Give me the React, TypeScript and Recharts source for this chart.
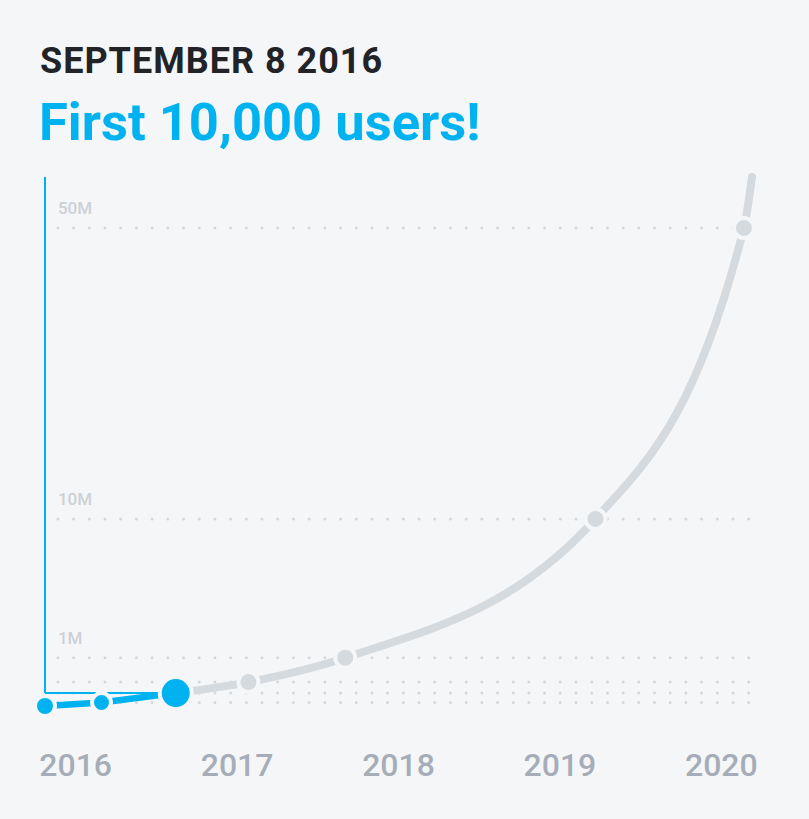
import { ComposedChart, Line, XAxis, YAxis, ReferenceLine } from 'recharts';

// decimal year of each milestone, and user count at that point
const dates = [2015.81, 2016.16, 2016.62, 2017.07, 2017.67, 2019.22, 2020.14, 2020.19];
const users = [0, 1000, 10000, 100000, 1000000, 10000000, 50000000, 57000000];
const highlightIndex = 2; // September 8 2016, first 10,000 users

const yearTicks = [2016, 2017, 2018, 2019, 2020];
const userTicks = [1000, 10000, 100000, 1000000, 10000000, 50000000];
const userTickLabels = ['', '', '', '1M', '10M', '50M'];

// the original uses a hand-made, non-linear y scale: user count -> axis level
const scaleValues = [0, 1000, 10000, 100000, 1000000, 10000000, 50000000];
const scaleLevels = [0, 3.5, 13, 24, 48.5, 188, 480.5];

const BG = '#f5f6f8';
const BLUE = '#00b3f0';
const GRAY = '#d5dadf';

function toLevel(v: number) {
  const n = scaleValues.length;
  for (let i = 1; i < n; i++) {
    if (v <= scaleValues[i]) {
      const t = (v - scaleValues[i - 1]) / (scaleValues[i] - scaleValues[i - 1]);
      return scaleLevels[i - 1] + t * (scaleLevels[i] - scaleLevels[i - 1]);
    }
  }
  const slope = (scaleLevels[n - 1] - scaleLevels[n - 2]) / (scaleValues[n - 1] - scaleValues[n - 2]);
  return scaleLevels[n - 1] + (v - scaleValues[n - 1]) * slope;
}

const data = dates.map((d, i) => ({
  date: d,
  blue: i <= highlightIndex ? toLevel(users[i]) : null,
  gray: i >= highlightIndex ? toLevel(users[i]) : null,
}));

const maxLevel = toLevel(users[users.length - 1]);

const BlueDot = (props: any) => {
  const { cx, cy, index } = props;
  if (cy == null || index > highlightIndex) return <g key={`b${index}`} />;
  const r = index === highlightIndex ? 14 : index === 0 ? 8 : 7.5;
  return <circle key={`b${index}`} cx={cx} cy={cy} r={r + 2} fill={BLUE} stroke={BG} strokeWidth={4} />;
};

const GrayDot = (props: any) => {
  const { cx, cy, index } = props;
  if (cy == null || index <= highlightIndex || index === dates.length - 1) return <g key={`g${index}`} />;
  return <circle key={`g${index}`} cx={cx} cy={cy} r={10} fill={GRAY} stroke={BG} strokeWidth={4} />;
};

const YearTick = (props: any) => {
  const { x, y, payload } = props;
  return (
    <text x={x} y={y + 68} textAnchor="middle" fill="#a5aeb8" fontSize={32} fontWeight={500} fontFamily="Roboto">
      {payload.value}
    </text>
  );
};

const GridLabel = (props: any) => {
  const { viewBox, text } = props;
  if (!text || !viewBox) return null;
  return (
    <text x={viewBox.x} y={viewBox.y - 13.7} fill="#ccd1d6" fontSize={17} fontWeight={500} fontFamily="Roboto">
      {text}
    </text>
  );
};

const DottedLine = (props: any) => {
  const { x1, x2, y1, y2 } = props;
  return (
    <line
      x1={x1}
      x2={x2}
      y1={y1}
      y2={y2}
      stroke="#d3d8dc"
      strokeWidth={3}
      strokeLinecap="round"
      strokeDasharray="0 15.7"
    />
  );
};

export default function App() {
  const hx = dates[highlightIndex];
  const hy = toLevel(users[highlightIndex]);
  const gridStart = dates[0] + 0.08;
  return (
    <div
      style={{
        position: 'absolute',
        left: 0,
        top: 0,
        width: 809,
        height: 819,
        background: BG,
        fontFamily: 'Roboto, sans-serif',
        overflow: 'hidden',
      }}
    >
      <div style={{ position: 'absolute', left: 40, top: 43, fontSize: 36, lineHeight: '36px', fontWeight: 700, letterSpacing: 1, color: '#222327', whiteSpace: 'nowrap' }}>
        SEPTEMBER 8 2016
      </div>
      <div style={{ position: 'absolute', left: 39, top: 95.5, fontSize: 52.5, lineHeight: '52.5px', fontWeight: 700, color: BLUE, whiteSpace: 'nowrap' }}>
        First 10,000 users!
      </div>
      <div style={{ position: 'absolute', left: 0, top: 0 }}>
        <ComposedChart width={809} height={819} data={data} margin={{ top: 177, right: 57, bottom: 53, left: 45 }}>
          <XAxis
            dataKey="date"
            type="number"
            domain={[dates[0], dates[dates.length - 1]]}
            ticks={yearTicks}
            axisLine={false}
            tickLine={false}
            tickSize={0}
            height={60}
            tick={<YearTick />}
          />
          <YAxis type="number" domain={[0, maxLevel]} hide />
          {userTicks.map((u, i) => (
            <ReferenceLine
              key={u}
              segment={[{ x: gridStart, y: toLevel(u) }, { x: dates[dates.length - 1], y: toLevel(u) }]}
              shape={<DottedLine />}
              label={<GridLabel text={userTickLabels[i]} />}
            />
          ))}
          <ReferenceLine segment={[{ x: dates[0], y: maxLevel }, { x: dates[0], y: hy }]} stroke={BLUE} strokeWidth={2} />
          <ReferenceLine segment={[{ x: dates[0], y: hy }, { x: hx, y: hy }]} stroke={BLUE} strokeWidth={2} />
          <Line
            type="monotone"
            dataKey="gray"
            stroke={GRAY}
            strokeWidth={8}
            strokeLinecap="round"
            dot={<GrayDot />}
            activeDot={false}
            isAnimationActive={false}
          />
          <Line
            type="linear"
            dataKey="blue"
            stroke={BLUE}
            strokeWidth={6.5}
            dot={<BlueDot />}
            activeDot={false}
            isAnimationActive={false}
          />
        </ComposedChart>
      </div>
    </div>
  );
}
